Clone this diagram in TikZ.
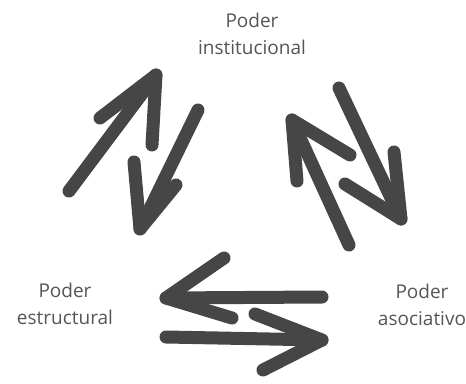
\documentclass[tikz,border=0pt]{standalone}
\usepackage{fontspec}
\setmainfont{Open Sans}
\usepackage{tikz}
\definecolor{inkgray}{HTML}{464646}
\definecolor{labelgray}{HTML}{555555}

\begin{document}
\begin{tikzpicture}[x=1pt,y=-1pt,
  label/.style={align=center,text=labelgray,font=\fontsize{19}{27}\selectfont,inner sep=0pt},
  stroke/.style={draw=inkgray,line width=13pt,line cap=round,line join=round}
]
\useasboundingbox (0,0) rectangle (466,383);
% labels
\node[label] (inst) at (252,34) {Poder\\institucional};
\node[label] (estr) at (65,304) {Poder\\estructural};
\node[label] (asoc) at (422,305) {Poder\\asociativo};
% left pair
\draw[stroke] (69,191) -- (156,75);
\draw[stroke] (100,118) -- (156,75) -- (152,145);
\draw[stroke] (198,110) -- (140,229);
\draw[stroke] (134,162) -- (140,229) -- (176,185);
% right pair
\draw[stroke] (349,245) -- (292,120);
\draw[stroke] (297,181) -- (292,120) -- (350,155);
\draw[stroke] (339,88) -- (401,219);
\draw[stroke] (345,184) -- (401,219) -- (394,152);
% bottom pair
\draw[stroke] (322,297) -- (166,298);
\draw[stroke] (224,258) -- (166,298) -- (232,318);
\draw[stroke] (166,337) -- (322,340);
\draw[stroke] (255,314) -- (322,340) -- (263,370);
\end{tikzpicture}
\end{document}
